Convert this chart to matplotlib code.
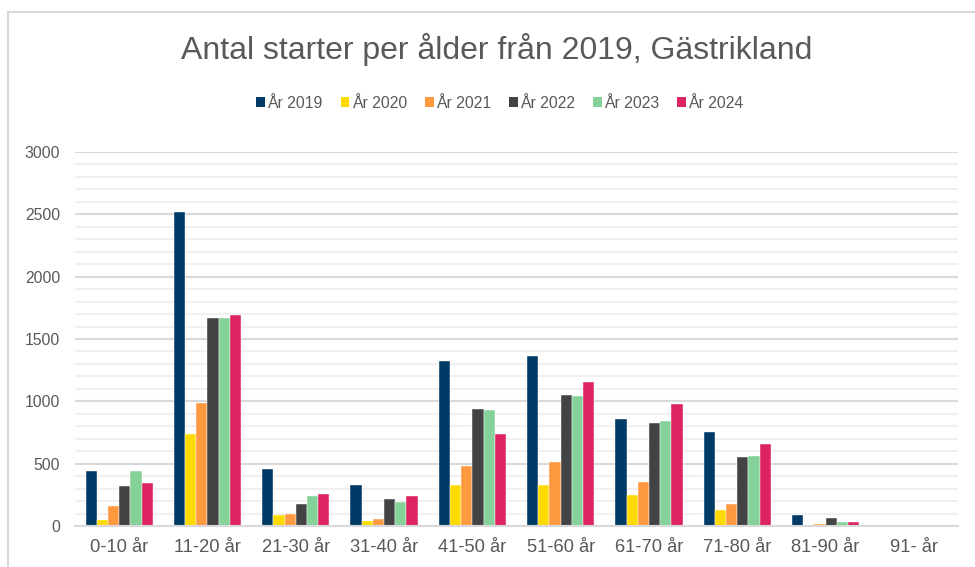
import matplotlib
matplotlib.use("Agg")
import matplotlib.pyplot as plt
import numpy as np
from matplotlib.lines import Line2D
from matplotlib.patches import Patch

categories = ["0-10 år", "11-20 år", "21-30 år", "31-40 år", "41-50 år",
              "51-60 år", "61-70 år", "71-80 år", "81-90 år", "91- år"]
series_names = ["År 2019", "År 2020", "År 2021", "År 2022", "År 2023", "År 2024"]
y2019 = [440, 2520, 460, 326, 1324, 1367, 858, 754, 86, 0]
y2020 = [45, 735, 86, 40, 332, 332, 246, 126, 5, 0]
y2021 = [160, 985, 94, 54, 479, 511, 353, 177, 19, 0]
y2022 = [320, 1671, 177, 214, 942, 1054, 826, 554, 64, 0]
y2023 = [445, 1666, 238, 193, 928, 1040, 845, 562, 30, 0]
y2024 = [345, 1696, 260, 241, 738, 1158, 976, 658, 35, 0]
yticks = [0, 500, 1000, 1500, 2000, 2500, 3000]

series = [y2019, y2020, y2021, y2022, y2023, y2024]
colors = ["#003A66", "#FFDA00", "#FF9940", "#434343", "#84D19A", "#DC2461"]
text_color = "#595959"

plt.rcParams['font.family'] = ['Liberation Sans', 'DejaVu Sans']

fig = plt.figure(figsize=(9.75, 5.67), dpi=100)
W, H = 975, 567
ax = fig.add_axes([75 / W, 1 - 526 / H, (958 - 75) / W, (526 - 152) / H])

x = np.arange(len(categories))
group = 0.76
bw = group / len(series)
for i, (vals, c) in enumerate(zip(series, colors)):
    offs = -group / 2 + bw * (i + 0.5)
    ax.bar(x + offs, vals, width=bw, color=c, edgecolor="white",
           linewidth=0.3, zorder=3, label=series_names[i])

ax.set_xlim(-0.5, len(categories) - 0.5)
ax.set_ylim(0, 3000)
ax.set_yticks(yticks)
ax.set_yticks(np.arange(0, 3001, 100), minor=True)
ax.yaxis.grid(True, which="minor", color="#F0F0F0", linewidth=1.5, zorder=0)
ax.yaxis.grid(True, which="major", color="#D9D9D9", linewidth=1.5, zorder=1)
ax.set_xticks(x)
ax.set_xticklabels(categories, fontsize=13.2, color=text_color)
ax.tick_params(axis="y", which="both", length=0, labelsize=11.3,
               labelcolor=text_color, pad=10.8)
ax.tick_params(axis="x", length=0, pad=9)
for s in ["top", "right", "left"]:
    ax.spines[s].set_visible(False)
ax.spines["bottom"].set_color("#D9D9D9")
ax.spines["bottom"].set_linewidth(1.5)
ax.spines["bottom"].set_zorder(4)

fig.text(497 / W, 1 - 50 / H, "Antal starter per ålder från 2019, Gästrikland",
         ha="center", va="center", fontsize=23, color=text_color)

handles = [Patch(facecolor=c, edgecolor="none") for c in colors]
fig.legend(handles, series_names, loc="center", bbox_to_anchor=(500 / W, 1 - 103 / H),
           ncol=6, frameon=False, fontsize=11.3, labelcolor=text_color,
           handlelength=0.55, handleheight=0.55, handletextpad=0.15,
           columnspacing=1.15)

# chart border (cropped on right/bottom)
fig.add_artist(Line2D([8 / W, 1], [1 - 12 / H, 1 - 12 / H], color="#D9D9D9",
                      linewidth=1.5, transform=fig.transFigure))
fig.add_artist(Line2D([8 / W, 8 / W], [0, 1 - 12 / H], color="#D9D9D9",
                      linewidth=1.5, transform=fig.transFigure))

fig.savefig("out.png", dpi=100)
